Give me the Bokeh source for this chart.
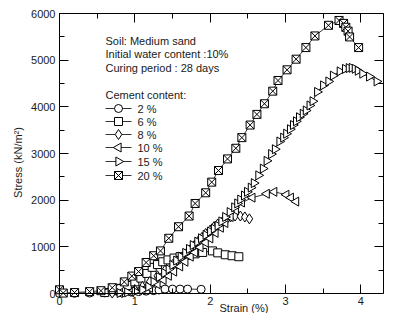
import math
from bokeh.plotting import figure
from bokeh.models import (LinearAxis, Range1d, Label, FixedTicker)
from bokeh.embed import file_html
from bokeh.resources import INLINE

# ---- data ----
strain_2 = [0, 0.2, 0.4, 0.6, 0.8, 0.95, 1.05, 1.15, 1.25, 1.32, 1.40, 1.50, 1.60, 1.70, 1.88]
stress_2 = [0, 5, 10, 15, 20, 30, 40, 50, 60, 75, 95, 95, 95, 95, 90]

strain_6 = [0.6, 0.7, 0.8, 0.9, 1.0, 1.08, 1.16, 1.23, 1.3, 1.37, 1.44, 1.52, 1.6, 1.7, 1.8, 1.9, 2.03, 2.1, 2.2, 2.29, 2.38]
stress_6 = [20, 60, 110, 170, 250, 330, 430, 560, 620, 680, 720, 760, 790, 820, 850, 880, 913, 871, 830, 809, 788]

strain_8 = [0.7, 0.85, 1.0, 1.1, 1.2, 1.3, 1.4, 1.5, 1.56, 1.62, 1.68, 1.73, 1.79, 1.84, 1.89, 1.94, 2.0, 2.05,
            2.1, 2.16, 2.22, 2.27, 2.33, 2.40, 2.46, 2.52]
stress_8 = [10, 30, 80, 150, 260, 380, 500, 620, 700, 768, 850, 934, 1030, 1120, 1200, 1286, 1360, 1432,
            1490, 1535, 1590, 1640, 1660, 1660, 1640, 1600]

strain_10 = [0.8, 0.95, 1.1, 1.2, 1.3, 1.38, 1.45, 1.52, 1.6, 1.67, 1.74, 1.8, 1.87, 1.94, 2.0, 2.07, 2.14,
             2.2, 2.27, 2.34, 2.42, 2.56, 2.75, 2.85, 3.01, 3.07, 3.14]
stress_10 = [10, 30, 70, 120, 200, 290, 380, 470, 580, 680, 790, 880, 990, 1090, 1180, 1300, 1410,
             1510, 1640, 1780, 1950, 2054, 2137, 2179, 2117, 2054, 1970]

strain_15 = [0.8, 0.9, 1.0, 1.1, 1.18, 1.25, 1.32, 1.39, 1.45, 1.5, 1.55, 1.61, 1.67, 1.72, 1.77, 1.83, 1.88,
             1.94, 2.0, 2.05, 2.10, 2.15, 2.20, 2.26, 2.32, 2.36, 2.40, 2.45, 2.49, 2.54, 2.58, 2.64, 2.70,
             2.75, 2.81, 2.86, 2.92, 2.97, 3.01, 3.06, 3.10, 3.14, 3.18, 3.23, 3.27, 3.32, 3.36, 3.42, 3.50,
             3.57, 3.63, 3.72, 3.79, 3.84, 3.88, 3.92, 3.96, 4.02, 4.11, 4.21]
stress_15 = [10, 25, 45, 80, 145, 250, 353, 440, 519, 610, 705, 790, 871, 955, 1037, 1110, 1183,
             1255, 1328, 1390, 1453, 1545, 1640, 1745, 1847, 1930, 2013, 2100, 2179, 2270, 2366, 2532, 2677,
             2843, 2988, 3092, 3258, 3340, 3424, 3520, 3611, 3690, 3777, 3850, 3922, 4030, 4120, 4320, 4460,
             4544, 4669, 4760, 4814, 4830, 4835, 4815, 4773, 4710, 4648, 4544]

strain_20 = [0, 0.05, 0.2, 0.4, 0.55, 0.7, 0.86, 0.96, 1.05, 1.15, 1.25, 1.34, 1.45, 1.58, 1.72, 1.80, 1.94,
             2.02, 2.11, 2.23, 2.34, 2.42, 2.53, 2.62, 2.72, 2.83, 2.90, 3.02, 3.14, 3.27, 3.39, 3.57, 3.71,
             3.77, 3.80, 3.83, 3.85, 3.97]
stress_20 = [80, 10, 20, 40, 60, 124, 249, 373, 470, 664, 809, 913, 1183, 1431, 1660, 1929, 2158,
             2386, 2635, 2884, 3112, 3340, 3610, 3838, 4066, 4336, 4564, 4793, 5021, 5270, 5519, 5747, 5851,
             5788, 5705, 5622, 5498, 5270]

series_names = ["2 %", "6 %", "8 %", "10 %", "15 %", "20 %"]
x_ticks = [0, 1, 2, 3, 4]
y_ticks = [0, 1000, 2000, 3000, 4000, 5000, 6000]
info_lines = ["Soil: Medium sand", "Initial water content :10%", "Curing period : 28 days"]
legend_title = "Cement content:"
FONT = "Liberation Sans"
TXT = "#1a1a1a"

# ---- layout (pixels) ----
W, H = 385, 313
AXL, AXR = 59, 383     # pixel columns of strain 0 and of the right-hand box edge
AXT, AXB = 13, 293     # pixel rows of stress 6000 and stress 0
X1, Y1 = 4.3, 6000
sx = X1 / (AXR - AXL)
sy = Y1 / (AXB - AXT)
XMIN, XMAX = -AXL * sx, X1 + (W - AXR) * sx
YMIN, YMAX = -(H - AXB) * sy, Y1 + AXT * sy

p = figure(width=W, height=H, x_range=Range1d(XMIN, XMAX), y_range=Range1d(YMIN, YMAX),
           output_backend="svg", toolbar_location=None,
           min_border_left=0, min_border_top=0, min_border_right=0, min_border_bottom=0)
p.grid.visible = False
p.outline_line_color = None

def px2x(px):
    return (px - AXL) * sx

def py2y(py):
    return (AXB - py) * sy

xt = FixedTicker(ticks=x_ticks, minor_ticks=[0.5, 1.5, 2.5, 3.5])
yt = FixedTicker(ticks=y_ticks, minor_ticks=[500, 1500, 2500, 3500, 4500, 5500])

def style(ax):
    ax.major_tick_in = 9
    ax.major_tick_out = 0
    ax.minor_tick_in = 5
    ax.minor_tick_out = 0
    ax.axis_line_color = "black"
    ax.major_tick_line_color = "black"
    ax.minor_tick_line_color = "black"
    ax.major_label_text_font = FONT
    ax.major_label_text_font_size = "11px"
    ax.major_label_text_color = TXT
    ax.axis_label_text_font = FONT
    ax.axis_label_text_font_size = "11px"
    ax.axis_label_text_font_style = "normal"
    ax.axis_label_text_color = TXT

p.xaxis.ticker = xt
p.yaxis.ticker = yt
style(p.xaxis[0])
style(p.yaxis[0])
p.xaxis.fixed_location = 0
p.xaxis.bounds = (0, X1)
p.yaxis.fixed_location = 0
p.yaxis.bounds = (0, Y1)
p.xaxis.major_label_standoff = 3
p.yaxis.major_label_standoff = 4

top = LinearAxis(ticker=xt, major_label_overrides={t: "" for t in x_ticks},
                 fixed_location=Y1, bounds=(0, X1))
style(top)
top.major_label_standoff = 0
p.add_layout(top, "above")
right = LinearAxis(ticker=yt, major_label_overrides={t: "" for t in y_ticks},
                   fixed_location=X1, bounds=(0, Y1))
style(right)
right.major_label_standoff = 0
p.add_layout(right, "right")

# axis titles
p.add_layout(Label(x=px2x(219), y=py2y(307), text="Strain (%)", text_font=FONT,
                   text_font_size="11px", text_baseline="middle", text_color=TXT))
p.add_layout(Label(x=px2x(17), y=py2y(162), text="Stress (kN/m\u00b2)", text_font=FONT,
                   text_font_size="11px", text_baseline="middle", text_align="center",
                   angle=math.pi / 2, text_color=TXT))

LW = 0.8
series = [
    (strain_2, stress_2, "circle", 0, 8),
    (strain_6, stress_6, "square", 0, 8),
    (strain_8, stress_8, "diamond", 0, 10),
    (strain_10, stress_10, "triangle", math.pi / 2, 9),
    (strain_15, stress_15, "triangle", -math.pi / 2, 9),
    (strain_20, stress_20, "square_x", 0, 8),
]
for xs, ys, mk, ang, sz in series:
    p.line(xs, ys, line_color="black", line_width=LW)
    p.scatter(xs, ys, marker=mk, angle=ang, size=sz, line_color="black",
              fill_color="white", line_width=1)

# ---- hand-drawn legend (same glyphs as the data) ----
row_py = [108, 121, 134, 147, 161, 175]
for (xs, ys, mk, ang, sz), name, py in zip(series, series_names, row_py):
    yy = py2y(py)
    p.line([px2x(105), px2x(131)], [yy, yy], line_color="black", line_width=LW)
    p.scatter([px2x(118)], [yy], marker=mk, angle=ang, size=sz, line_color="black",
              fill_color="white", line_width=1)
    p.add_layout(Label(x=px2x(137), y=yy, text=name, text_font=FONT, text_font_size="11px",
                       text_baseline="middle", text_color=TXT))

p.add_layout(Label(x=px2x(105), y=py2y(94), text=legend_title, text_font=FONT,
                   text_font_size="11px", text_baseline="middle", text_color=TXT))
for i, t in enumerate(info_lines):
    p.add_layout(Label(x=px2x(105), y=py2y(40 + i * 13.5), text=t, text_font=FONT,
                       text_font_size="11px", text_baseline="middle", text_color=TXT))

open("out.html", "w").write(file_html(p, INLINE))
